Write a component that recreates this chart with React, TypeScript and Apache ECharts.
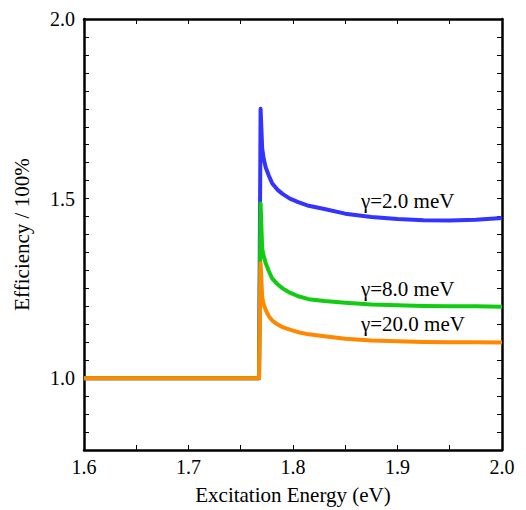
import React, { useEffect, useRef } from "react";
import * as echarts from "echarts";

const energy = [1.6, 1.7675, 1.769, 1.7705, 1.772, 1.774, 1.777, 1.78, 1.785, 1.79, 1.797, 1.805, 1.815, 1.83, 1.85, 1.875, 1.9, 1.925, 1.95, 1.975, 2.0];
const gamma2 = [1.0, 1.0, 1.75, 1.64, 1.61, 1.586, 1.563, 1.543, 1.525, 1.513, 1.5, 1.49, 1.48, 1.471, 1.458, 1.449, 1.443, 1.44, 1.439, 1.441, 1.446];
const gamma8 = [1.0, 1.0, 1.486, 1.36, 1.34, 1.319, 1.297, 1.278, 1.262, 1.25, 1.238, 1.228, 1.22, 1.215, 1.21, 1.205, 1.203, 1.201, 1.2, 1.2, 1.199];
const gamma20 = [1.0, 1.0, 1.32, 1.225, 1.205, 1.189, 1.172, 1.161, 1.15, 1.142, 1.135, 1.128, 1.122, 1.117, 1.11, 1.105, 1.103, 1.101, 1.1, 1.1, 1.099];

const seriesNames = ["γ=2.0 meV", "γ=8.0 meV", "γ=20.0 meV"];
const seriesColors = ["#3434ff", "#11cc11", "#ff8800"];
const labelAnchors: [number, number][] = [[1.865, 1.494], [1.865, 1.247], [1.865, 1.15]];

const FONT = "'Liberation Serif', 'Times New Roman', serif";

export default function App() {
  const ref = useRef<HTMLDivElement>(null);
  useEffect(() => {
    document.body.style.margin = "0";
    const chart = echarts.init(ref.current!, null, { renderer: "svg" });
    const values = [gamma2, gamma8, gamma20];
    const isMult = (v: number, step: number) => Math.abs(v / step - Math.round(v / step)) < 1e-6;
    const common = {
      type: "value" as const,
      axisLine: { show: true, onZero: false, lineStyle: { color: "#000", width: 2.5 } },
      axisTick: { show: true, inside: true, length: 5, lineStyle: { color: "#000", width: 1 } },
      splitLine: { show: false },
    };
    chart.setOption({
      animation: false,
      grid: { left: 84, right: 24, top: 19, bottom: 60 },
      xAxis: [
        {
          ...common,
          min: 1.6, max: 2.0, interval: 0.05, position: "bottom",
          name: "Excitation Energy (eV)", nameLocation: "middle", nameGap: 34,
          nameTextStyle: { fontFamily: FONT, fontSize: 21, color: "#000" },
          axisLabel: {
            fontFamily: FONT, fontSize: 20, color: "#000", margin: 7,
            formatter: (v: number) => (isMult(v, 0.1) ? v.toFixed(1) : ""),
          },
        },
        { ...common, min: 1.6, max: 2.0, interval: 0.05, position: "top", axisLabel: { show: false } },
      ],
      yAxis: [
        {
          ...common,
          min: 0.8, max: 2.0, interval: 0.05, position: "left",
          name: "Efficiency / 100%", nameLocation: "middle", nameGap: 52,
          nameTextStyle: { fontFamily: FONT, fontSize: 21, color: "#000" },
          axisLabel: {
            fontFamily: FONT, fontSize: 20, color: "#000", margin: 9,
            formatter: (v: number) => (isMult(v, 0.5) ? v.toFixed(1) : ""),
          },
        },
        { ...common, min: 0.8, max: 2.0, interval: 0.05, position: "right", axisLabel: { show: false } },
      ],
      series: values.map((vals, i) => ({
        name: seriesNames[i],
        type: "line",
        xAxisIndex: 0,
        yAxisIndex: 0,
        data: energy.map((x, j) => [x, vals[j]]),
        showSymbol: false,
        symbol: "none",
        lineStyle: { color: seriesColors[i], width: 4, join: "round" },
        itemStyle: { color: seriesColors[i] },
        z: 2 + i,
      })),
    });
    const graphics = labelAnchors.map((a, i) => {
      const p = chart.convertToPixel({ xAxisIndex: 0, yAxisIndex: 0 }, a) as number[];
      return {
        type: "text",
        x: p[0],
        y: p[1],
        style: {
          text: seriesNames[i],
          fontFamily: FONT,
          fontSize: 21,
          fill: "#000",
          textAlign: "left",
          verticalAlign: "middle",
        },
        z: 10,
      };
    });
    chart.setOption({ graphic: graphics });
    return () => chart.dispose();
  }, []);
  return <div ref={ref} style={{ width: 526, height: 510 }} />;
}
